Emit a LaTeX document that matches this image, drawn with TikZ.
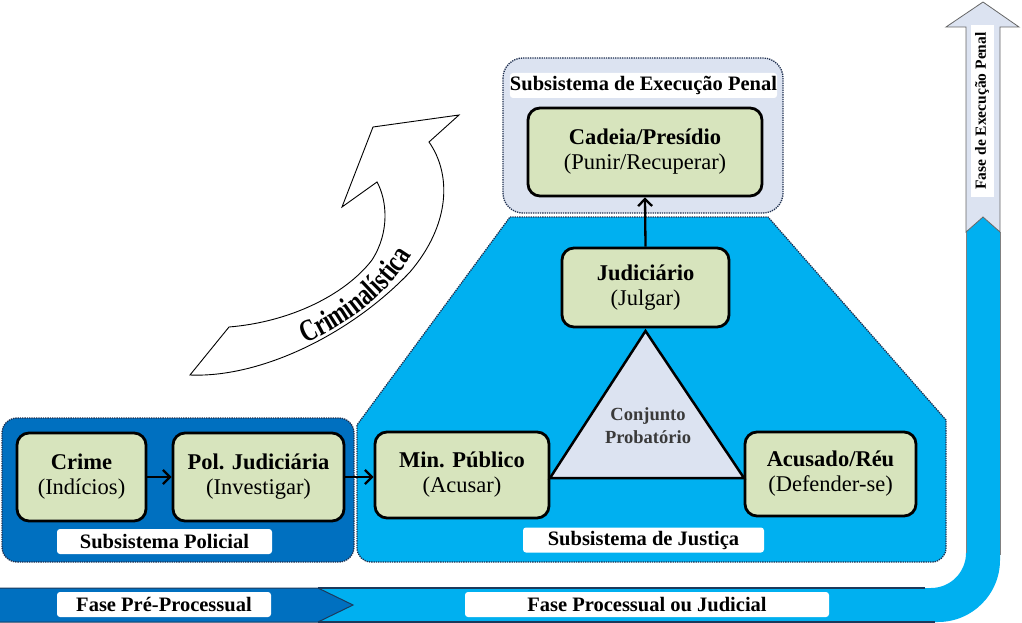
\documentclass[tikz,border=0pt]{standalone}
\usepackage{fontspec}
\setmainfont{Liberation Serif}
\newfontfamily\critfont[FakeStretch=0.74]{Liberation Serif}
\usetikzlibrary{arrows.meta,decorations.text}
\definecolor{dblue}{HTML}{0070C0}
\definecolor{lblue}{HTML}{00B0F0}
\definecolor{lav}{HTML}{DCE3F1}
\definecolor{boxg}{HTML}{D7E4BD}
\definecolor{dotc}{HTML}{1F2F4F}
\definecolor{navyline}{HTML}{1B3A5C}
\definecolor{cjtxt}{HTML}{3A3A3A}
\tikzset{
  mbox/.style={draw=black, line width=2.8pt, rounded corners=12pt, fill=boxg, align=center, inner sep=0pt,
    font=\fontsize{22.5}{25}\selectfont},
  lab/.style={fill=white, rounded corners=3pt, inner sep=0pt, minimum height=25pt,
    font=\fontsize{20.5}{22}\selectfont\bfseries},
  cont/.style={draw=dotc, densely dotted, line width=1.3pt},
  arr/.style={line width=2.3pt, -{Straight Barb[length=7pt,width=14pt,line width=2.3pt]}},
}
\begin{document}
\begin{tikzpicture}[x=1pt,y=-1pt]
\useasboundingbox (0,0) rectangle (1022,623);
% --- right band and execution arrow
\fill[lblue] (300,588) -- (931,588) .. controls (950.3,588) and (966,572.3) .. (966,553)
  -- (966,232) -- (983,217) -- (1000,232) -- (1000,560)
  .. controls (1000,594.2) and (972.2,622) .. (938,622) -- (300,622) -- cycle;
\draw[gray, line width=0.8pt] (966,232) -- (966,553) (1000,232) -- (1000,555);
\filldraw[fill=lav, draw=gray!80!black, line width=0.8pt]
  (966,232) -- (966,27) -- (946,27) -- (983,2) -- (1019,27) -- (1000,27) -- (1000,232) -- (983,217) -- cycle;
\node[fill=white, inner sep=0pt, minimum width=172pt, minimum height=23pt, rotate=90,
  font=\fontsize{15.5}{16}\selectfont\bfseries] (fexec) at (982,111) {Fase de Execução Penal};
% --- bottom dark chevron
\filldraw[fill=dblue, draw=navyline, line width=1pt] (0,588) -- (318,588) -- (353,605) -- (318,622) -- (0,622);
\draw[navyline, line width=1.2pt] (318,588) -- (925,588) (318,622) -- (935,622);
% --- containers
\filldraw[cont, fill=lav, rounded corners=20pt] (503,58) rectangle (783,213);
\filldraw[cont, fill=lblue] (510,217) -- (768,217) -- (946,420) [rounded corners=14pt] -- (946,562) -- (357,562) [sharp corners] -- (357,425) -- cycle;
\filldraw[cont, fill=dblue, rounded corners=15pt] (2,418) rectangle (354,562);
% --- Criminalistica curved arrow
\filldraw[fill=white, draw=black, line width=0.9pt]
  (190,375) -- (229,327) .. controls (290,322) and (345,295) .. (372,260)
  .. controls (390,232) and (387,200) .. (377,182) -- (342,207) -- (373,127) -- (459,115) -- (429,142)
  .. controls (452,175) and (450,225) .. (410,272)
  .. controls (350,335) and (260,378) .. (190,375) -- cycle;
\path[decorate, decoration={text along path, text align=center,
  text={|\critfont\bfseries\fontsize{31}{31}\selectfont|Criminalística}}]
  (287,351) .. controls (343,330) and (392,296) .. (421,238);
% --- labels
\node[lab, minimum width=267pt] (lexec) at (643.5,85.5) {Subsistema de Execução Penal};
\node[lab, minimum width=241pt] (ljust) at (643.5,540) {Subsistema de Justiça};
\node[lab, minimum width=215pt] (lpol) at (164.5,541.5) {Subsistema Policial};
\node[lab, minimum width=214pt] (lpre) at (164,604.5) {Fase Pré-Processual};
\node[lab, minimum width=364pt] (lproc) at (647,604.5) {Fase Processual ou Judicial};
% --- main boxes
\node[mbox, minimum width=234pt, minimum height=88pt] (cad) at (645,152) {\textbf{Cadeia/Presídio}\\(Punir/Recuperar)};
\node[mbox, minimum width=167pt, minimum height=79pt] (jud) at (645.5,287.5) {\textbf{Judiciário}\\(Julgar)};
\node[mbox, minimum width=129pt, minimum height=88pt] (crime) at (81.5,477) {\textbf{Crime}\\(Indícios)};
\node[mbox, minimum width=171pt, minimum height=88pt] (pol) at (258.5,477) {\textbf{Pol. Judiciária}\\(Investigar)};
\node[mbox, minimum width=174pt, minimum height=86pt] (min) at (462,475) {\textbf{Min. Público}\\(Acusar)};
\node[mbox, minimum width=171pt, minimum height=84pt] (acu) at (830.5,474) {\textbf{Acusado/Réu}\\(Defender-se)};
% --- triangle
\coordinate (tA) at (645.5,331);
\coordinate (tL) at (550,478);
\coordinate (tR) at (744,478);
\filldraw[fill=lav, draw=black, line width=2.5pt, line join=miter] (tA) -- (tL) -- (tR) -- cycle;
\node[align=center, text=cjtxt, font=\fontsize{18.5}{23}\selectfont\bfseries] (conj) at (648,426) {Conjunto\\Probatório};
% --- arrows
\draw[arr] (crime.east) -- (pol.west);
\draw[arr] (pol.east) -- (min.west |- pol.east);
\draw[arr] (jud.north) -- (cad.south);
\end{tikzpicture}
\end{document}
